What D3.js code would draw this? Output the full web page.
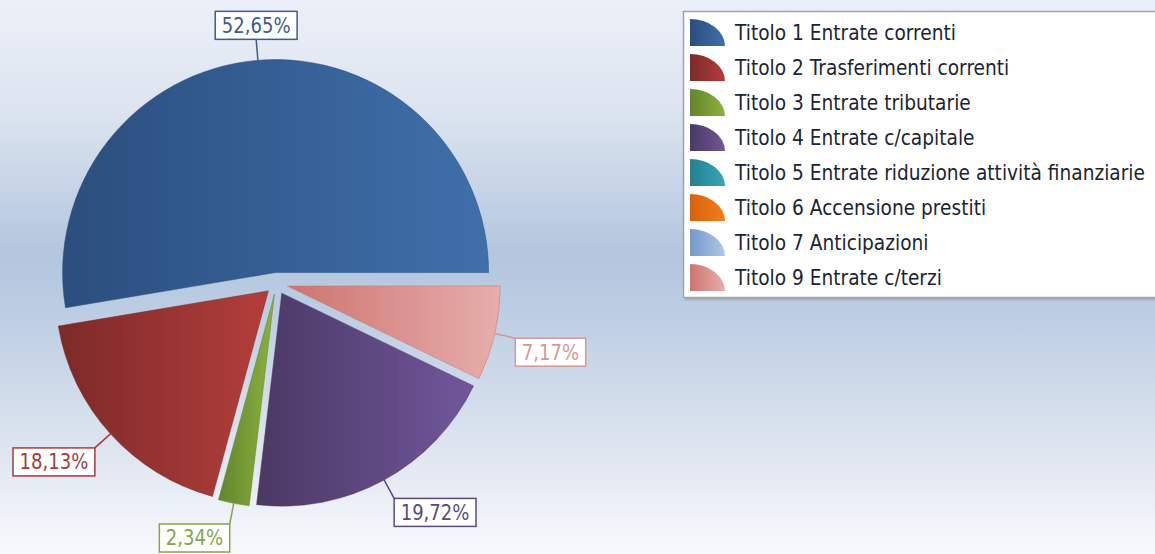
<!DOCTYPE html>
<html lang="it">
  <head>
    <meta charset="utf-8">
    <title>Entrate per titolo</title>
    <style>
      body { margin: 0; overflow: hidden; }
    </style>
  </head>
  <body>
    <div id="chart-area"></div>
    <script src="https://cdn.jsdelivr.net/npm/d3@7"></script>
    <script>
      // data
      const categories = [
        'Titolo 1 Entrate correnti',
        'Titolo 2 Trasferimenti correnti',
        'Titolo 3 Entrate tributarie',
        'Titolo 4 Entrate c/capitale',
        'Titolo 5 Entrate riduzione attività finanziarie',
        'Titolo 6 Accensione prestiti',
        'Titolo 7 Anticipazioni',
        'Titolo 9 Entrate c/terzi'
      ];
      const values = [52.65, 18.13, 2.34, 19.72, 0, 0, 0, 7.17];
      const dark_colors = ['#2b4e7d', '#7c2a29', '#62862b', '#4a3864', '#24808f', '#d9620b', '#7499cc', '#cd746f'];
      const light_colors = ['#3f70ab', '#b33e3b', '#8eb040', '#71579a', '#3aa5b6', '#f07d1e', '#adc8e8', '#e6aeac'];
      const label_colors = ['#3b5d8f', '#a33c3b', '#86a54a', '#5b4a7c', '#2a8a9a', '#e06a10', '#7fa6d6', '#d49995'];

      const svg_width = 1155;
      const svg_height = 554;
      const cx = 276.5, cy = 283.5;
      const radius = 213;
      const explode = 11;
      const leader = 21;
      const squeeze = 0.86;
      const font = 'DejaVu Sans';

      const svg = d3.select('#chart-area')
        .append('svg')
        .attr('width', svg_width)
        .attr('height', svg_height);

      const defs = svg.append('defs');

      const bg = defs.append('linearGradient')
        .attr('id', 'bg')
        .attr('x1', 0).attr('y1', 0).attr('x2', 0).attr('y2', 1);
      [[0, '#ecf0f8'], [0.2, '#dce4f0'], [0.46, '#b3c6de'], [0.56, '#bccde3'], [0.8, '#dde4ef'], [1, '#f8f9fc']]
        .forEach(s => bg.append('stop').attr('offset', s[0]).attr('stop-color', s[1]));

      categories.forEach((c, i) => {
        const g = defs.append('linearGradient')
          .attr('id', 'grad' + i)
          .attr('x1', 0).attr('y1', 0).attr('x2', 1).attr('y2', 0);
        g.append('stop').attr('offset', 0).attr('stop-color', dark_colors[i]);
        g.append('stop').attr('offset', 1).attr('stop-color', light_colors[i]);
      });

      svg.append('rect')
        .attr('width', svg_width)
        .attr('height', svg_height)
        .attr('fill', 'url(#bg)');

      // pie, counter-clockwise from 3 o'clock
      const data = values.map((v, i) => ({ name: categories[i], value: v, index: i }))
        .filter(d => d.value > 0);

      const pie = d3.pie()
        .sort(null)
        .value(d => d.value)
        .startAngle(Math.PI / 2)
        .endAngle(Math.PI / 2 - 2 * Math.PI);

      const arc = d3.arc().innerRadius(0).outerRadius(radius);
      const arcs = pie(data);

      const dir = d => {
        const a = (d.startAngle + d.endAngle) / 2;
        return [Math.sin(a), -Math.cos(a)];
      };

      const pie_g = svg.append('g').attr('transform', `translate(${cx},${cy})`);

      pie_g.selectAll('path').data(arcs).enter()
        .append('path')
        .attr('d', arc)
        .attr('transform', d => {
          const [dx, dy] = dir(d);
          return `translate(${dx * explode},${dy * explode})`;
        })
        .attr('fill', d => `url(#grad${d.data.index})`)
        .attr('stroke', d => dark_colors[d.data.index])
        .attr('stroke-opacity', 0.5)
        .attr('stroke-width', 1);

      // labels with leader lines
      const label_g = pie_g.selectAll('g.label').data(arcs).enter()
        .append('g')
        .attr('class', 'label');

      label_g.each(function (d) {
        const g = d3.select(this);
        const [dx, dy] = dir(d);
        const ox = dx * explode, oy = dy * explode;
        const x0 = ox + dx * radius, y0 = oy + dy * radius;
        const x1 = ox + dx * (radius + leader), y1 = oy + dy * (radius + leader);
        const col = label_colors[d.data.index];

        g.append('line')
          .attr('x1', x0).attr('y1', y0)
          .attr('x2', x1).attr('y2', y1)
          .attr('stroke', col)
          .attr('stroke-width', 1.5);

        const rect = g.append('rect');
        const text = g.append('text')
          .text(d.data.value.toFixed(2).replace('.', ',') + '%')
          .attr('font-family', font)
          .attr('font-size', '21px')
          .attr('fill', col);
        const w = text.node().getComputedTextLength() * squeeze;

        const bw = w + 13, bh = 28;
        let bx, by;
        if (Math.abs(dx) < 0.12) bx = x1 - bw / 2;
        else if (dx > 0) bx = x1;
        else bx = x1 - bw;
        by = dy < 0 ? y1 - bh : y1;

        rect.attr('x', bx).attr('y', by)
          .attr('width', bw).attr('height', bh)
          .attr('fill', '#fff')
          .attr('stroke', col)
          .attr('stroke-width', 1.5);
        text.attr('transform', `translate(${bx + 6.5},${by + bh / 2 + 7.5}) scale(${squeeze},1)`);
      });

      // legend
      const lx = 683.5, ly = 11.5;
      svg.append('rect')
        .attr('x', lx + 1).attr('y', ly + 2)
        .attr('width', 600).attr('height', 287)
        .attr('fill', '#aab0b8');
      svg.append('rect')
        .attr('x', lx).attr('y', ly)
        .attr('width', 600).attr('height', 286)
        .attr('fill', '#fff')
        .attr('stroke', '#9ea4ac')
        .attr('stroke-width', 1.5);

      const item = svg.selectAll('g.item').data(categories).enter()
        .append('g')
        .attr('class', 'item')
        .attr('transform', (d, i) => `translate(690,${19 + i * 35})`);

      item.append('path')
        .attr('d', 'M0,0 A35,27 0 0 1 35,27 L0,27 Z')
        .attr('fill', (d, i) => `url(#grad${i})`);

      const legend_text = item.append('text')
        .text(d => d)
        .attr('font-family', font)
        .attr('font-size', '22px')
        .attr('fill', '#1c2433');

      const widths = legend_text.nodes().map(n => n.getComputedTextLength());
      const fit = 410 / d3.max(widths);
      legend_text.attr('transform', `translate(45,21) scale(${fit},1)`);
    </script>
  </body>
</html>
